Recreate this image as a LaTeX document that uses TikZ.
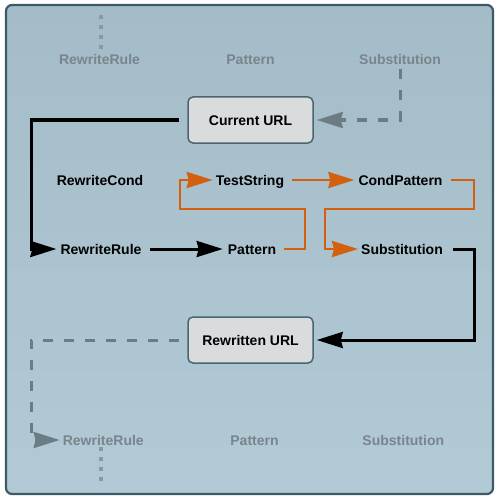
\documentclass[tikz,border=0pt]{standalone}
\usepackage{fontspec}
\setmainfont{Liberation Sans}
\usetikzlibrary{arrows.meta}
\definecolor{bgtop}{HTML}{A4BBC8}
\definecolor{bgbot}{HTML}{B2C9D6}
\definecolor{framec}{HTML}{3E5A64}
\definecolor{boxfill}{HTML}{D9DBDD}
\definecolor{boxline}{HTML}{4A6670}
\definecolor{ghost}{HTML}{78858C}
\definecolor{dashgray}{HTML}{6C7C84}
\definecolor{dotgray}{HTML}{8A99A1}
\definecolor{orng}{HTML}{D2600F}
\begin{document}
\begin{tikzpicture}[x=1pt,y=-1pt,
 lbl/.style={font=\fontsize{14}{16}\selectfont\bfseries, inner sep=2pt, text height=10pt, text depth=0pt},
 ghostlbl/.style={lbl, text=ghost},
 urlbox/.style={lbl, draw=boxline, fill=boxfill, line width=1.5pt, rounded corners=5pt, minimum width=125pt, minimum height=46pt},
 tipd/.style={-{Stealth[length=26pt,width=16pt,inset=2pt]}},
 blk/.style={tipd, draw=black, line width=3pt},
 org/.style={tipd, draw=orng, line width=2.7pt},
 gdash/.style={tipd, draw=dashgray, line width=3pt, dash pattern=on 10pt off 11pt},
 gdot/.style={draw=dotgray, line width=4pt, dash pattern=on 4pt off 6pt}]
\useasboundingbox (0,0) rectangle (500,500);
\shade[top color=bgtop, bottom color=bgbot, rounded corners=6pt] (6,5) rectangle (493,494);
\draw[framec, line width=2.2pt, rounded corners=6pt] (6,5) rectangle (493,494);

% top ghost row
\node[ghostlbl] (rrT) at (99.5,60) {RewriteRule};
\node[ghostlbl] (patT) at (250.5,60) {Pattern};
\node[ghostlbl] (subT) at (400,60) {Substitution};

% boxes
\node[urlbox] (cur) at (250.5,120) {Current URL};
\node[urlbox] (rew) at (250.5,340) {Rewritten URL};

% middle labels
\node[lbl] (rc) at (100,180) {RewriteCond};
\node[lbl] (ts) at (250,180) {TestString};
\node[lbl] (cp) at (400.5,180) {CondPattern};
\node[lbl] (rr) at (101,249) {RewriteRule};
\node[lbl] (pat) at (252,249) {Pattern};
\node[lbl] (sub) at (402,249) {Substitution};

% bottom ghost row
\node[ghostlbl] (rrB) at (103.3,440) {RewriteRule};
\node[ghostlbl] (patB) at (254.5,440) {Pattern};
\node[ghostlbl] (subB) at (403.3,440) {Substitution};

% dotted stubs
\coordinate (dtop) at (101,15);
\coordinate (dbot) at (101,485);
\draw[gdot] (dtop) -- (dtop |- rrT.north);
\draw[gdot] (dbot |- rrB.south) -- (dbot);

% connectors
\draw[blk, shorten <=8pt, shorten >=2pt] (cur.west) -- (31,120) |- (rr.west);
\draw[blk, shorten <=6pt, shorten >=3pt] (rr.east) -- (pat.west);
\draw[org, shorten <=6pt, shorten >=1pt] (pat.east) -- (305,249) |- (180,209) |- (ts.west);
\draw[org, shorten <=6pt, shorten >=2pt] (ts.east) -- (cp.west);
\draw[org, shorten <=6pt, shorten >=1pt] (cp.east) -- (474,180) |- (325,209) |- (sub.west);
\draw[blk, shorten <=8pt, shorten >=3pt] (sub.east) -- (474,249) |- (rew.east);
\draw[gdash, shorten <=2pt, shorten >=3pt] (subT.south) |- (cur.east);
\draw[gdash, shorten <=8pt, shorten >=1pt] (rew.west) -- (31,340) |- (rrB.west);
\end{tikzpicture}
\end{document}
